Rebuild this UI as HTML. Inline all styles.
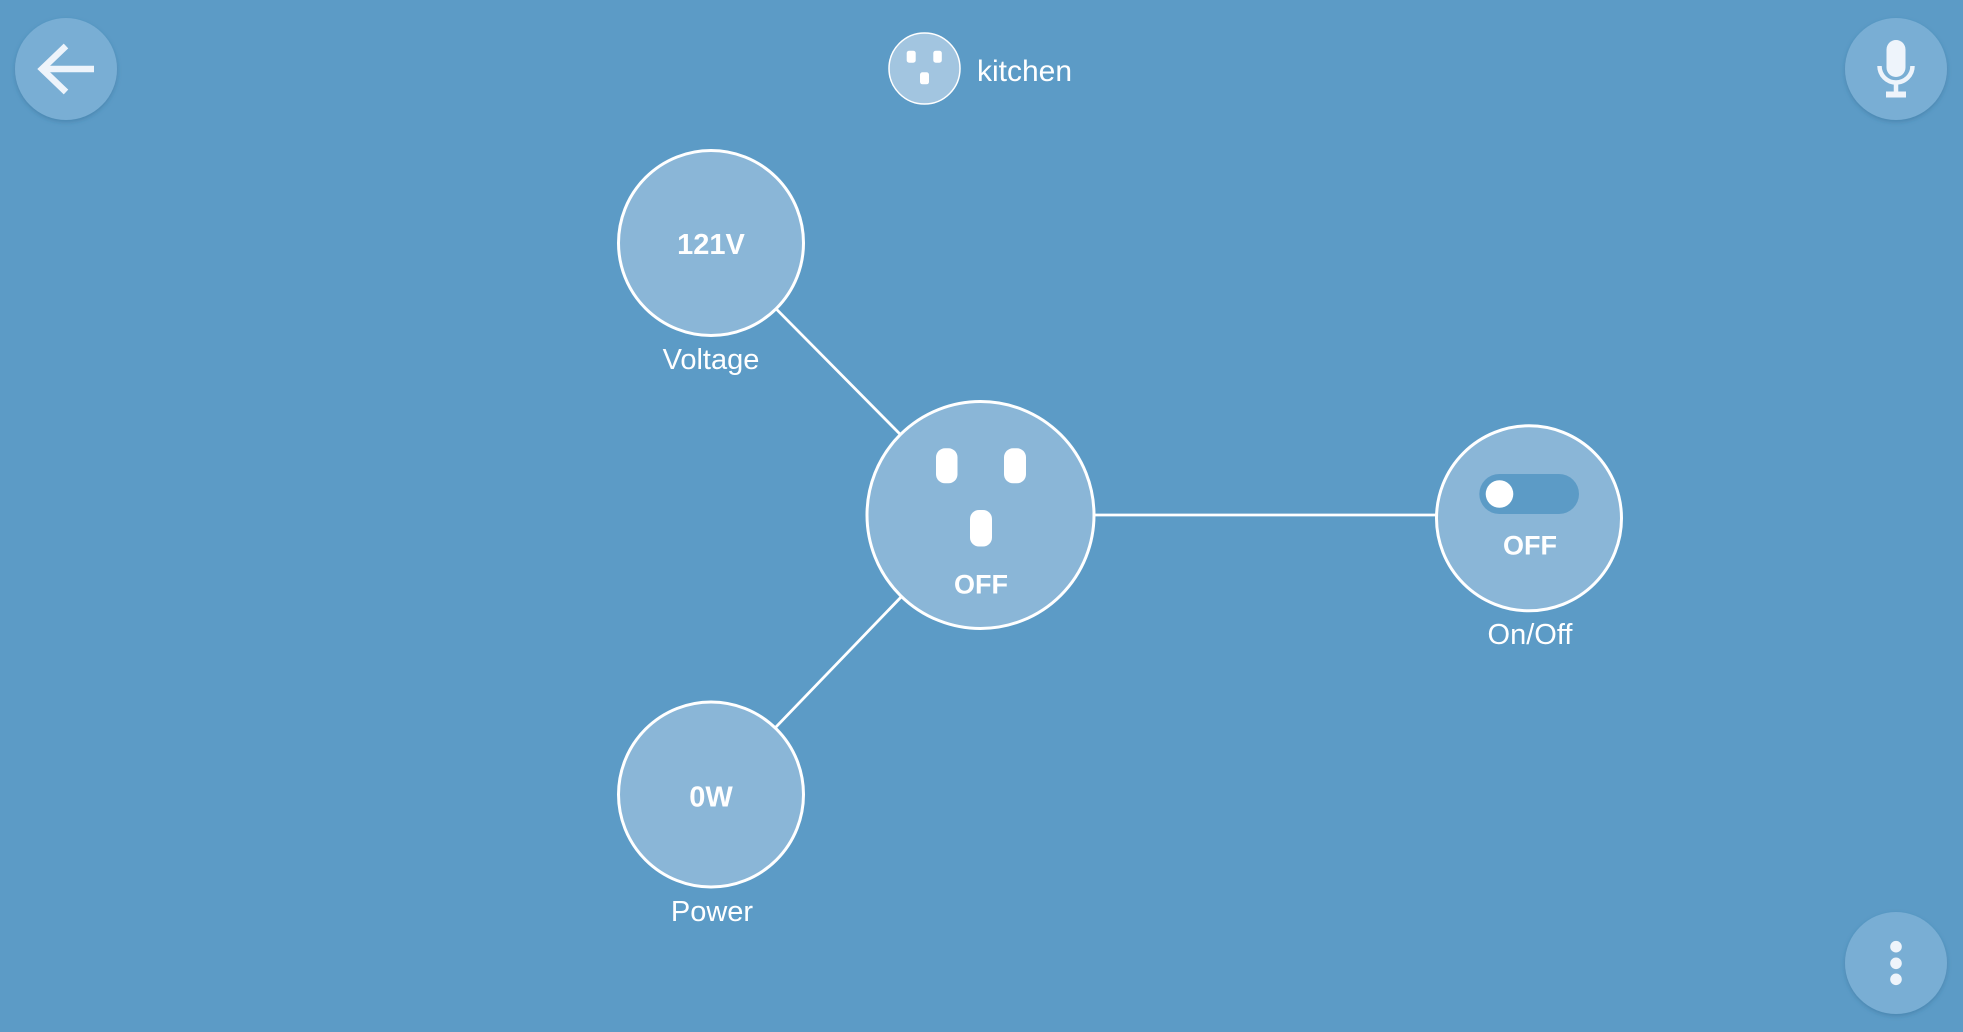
<!DOCTYPE html>
<html>
<head>
<meta charset="utf-8">
<style>
  html, body { margin: 0; padding: 0; }
  body { width: 1963px; height: 1032px; background: #5c9bc6; overflow: hidden; }
  svg { display: block; }
  text { font-family: "Liberation Sans", sans-serif; fill: #ffffff; }
</style>
</head>
<body>
<svg width="1963" height="1032" viewBox="0 0 1963 1032" xmlns="http://www.w3.org/2000/svg">
  <defs>
    <filter id="sh" x="-30%" y="-30%" width="160%" height="160%">
      <feDropShadow dx="0" dy="2" stdDeviation="2.5" flood-color="#2d5f85" flood-opacity="0.35"/>
    </filter>
  </defs>
  <rect width="1963" height="1032" fill="#5c9bc6"/>

  <!-- Back button -->
  <circle cx="66" cy="69" r="51" fill="#79aed4" filter="url(#sh)"/>
  <g stroke="#eef4fb" stroke-width="6.5" fill="none" stroke-linecap="butt">
    <line x1="42" y1="69" x2="94" y2="69"/>
    <polyline points="66,46 42,69 66,92"/>
  </g>

  <!-- Mic button -->
  <circle cx="1896" cy="69" r="51" fill="#79aed4" filter="url(#sh)"/>
  <rect x="1886.5" y="40" width="19" height="37" rx="9.5" fill="#eef4fb"/>
  <path d="M1879.5 66 A16.5 16.5 0 0 0 1912.5 66" stroke="#eef4fb" stroke-width="4.5" fill="none"/>
  <line x1="1896" y1="82" x2="1896" y2="93" stroke="#eef4fb" stroke-width="4.5"/>
  <rect x="1886" y="91.5" width="20" height="6" fill="#eef4fb"/>

  <!-- More button -->
  <circle cx="1896" cy="963" r="51" fill="#79aed4" filter="url(#sh)"/>
  <circle cx="1896" cy="946.7" r="5.8" fill="#eef4fb"/>
  <circle cx="1896" cy="963.3" r="5.8" fill="#eef4fb"/>
  <circle cx="1896" cy="979.3" r="5.8" fill="#eef4fb"/>

  <!-- Kitchen header -->
  <circle cx="924.5" cy="68.5" r="35.5" fill="#a2c5e0" stroke="#ffffff" stroke-width="1.5"/>
  <rect x="906.7" y="50.7" width="9" height="12" rx="2.5" fill="#ffffff"/>
  <rect x="933.3" y="50.7" width="8.5" height="12" rx="2.5" fill="#ffffff"/>
  <rect x="920" y="72.3" width="9" height="12" rx="2.5" fill="#ffffff"/>
  <text x="977" y="81" font-size="30">kitchen</text>

  <!-- Connectors -->
  <g stroke="#ffffff" stroke-width="2.8">
    <line x1="711" y1="243" x2="980" y2="515"/>
    <line x1="711" y1="794.5" x2="980" y2="515"/>
    <line x1="980" y1="515" x2="1529" y2="515"/>
  </g>

  <!-- Voltage node -->
  <circle cx="711" cy="243" r="92.5" fill="#8ab6d7" stroke="#ffffff" stroke-width="3"/>
  <text x="711" y="254" font-size="29" font-weight="bold" text-anchor="middle">121V</text>
  <text x="711" y="369" font-size="29" text-anchor="middle">Voltage</text>

  <!-- Central node -->
  <circle cx="980.5" cy="515" r="113.5" fill="#8ab6d7" stroke="#ffffff" stroke-width="3"/>
  <rect x="936" y="448.3" width="21.5" height="35" rx="9" fill="#ffffff"/>
  <rect x="1004" y="448.3" width="22" height="35" rx="9" fill="#ffffff"/>
  <rect x="970" y="510" width="22" height="36.5" rx="9" fill="#ffffff"/>
  <text x="981" y="593.3" font-size="27" font-weight="bold" text-anchor="middle">OFF</text>

  <!-- On/Off node -->
  <circle cx="1529" cy="518.3" r="92.5" fill="#8ab6d7" stroke="#ffffff" stroke-width="3"/>
  <rect x="1479.3" y="474" width="99.7" height="40" rx="20" fill="#5c9bc6"/>
  <circle cx="1499.5" cy="494" r="13.8" fill="#ffffff"/>
  <text x="1530" y="554.7" font-size="27" font-weight="bold" text-anchor="middle">OFF</text>
  <text x="1530" y="644" font-size="29" text-anchor="middle">On/Off</text>

  <!-- Power node -->
  <circle cx="711" cy="794.5" r="92.5" fill="#8ab6d7" stroke="#ffffff" stroke-width="3"/>
  <text x="711" y="806.7" font-size="29" font-weight="bold" text-anchor="middle">0W</text>
  <text x="712" y="921" font-size="29" text-anchor="middle">Power</text>
</svg>
</body>
</html>
